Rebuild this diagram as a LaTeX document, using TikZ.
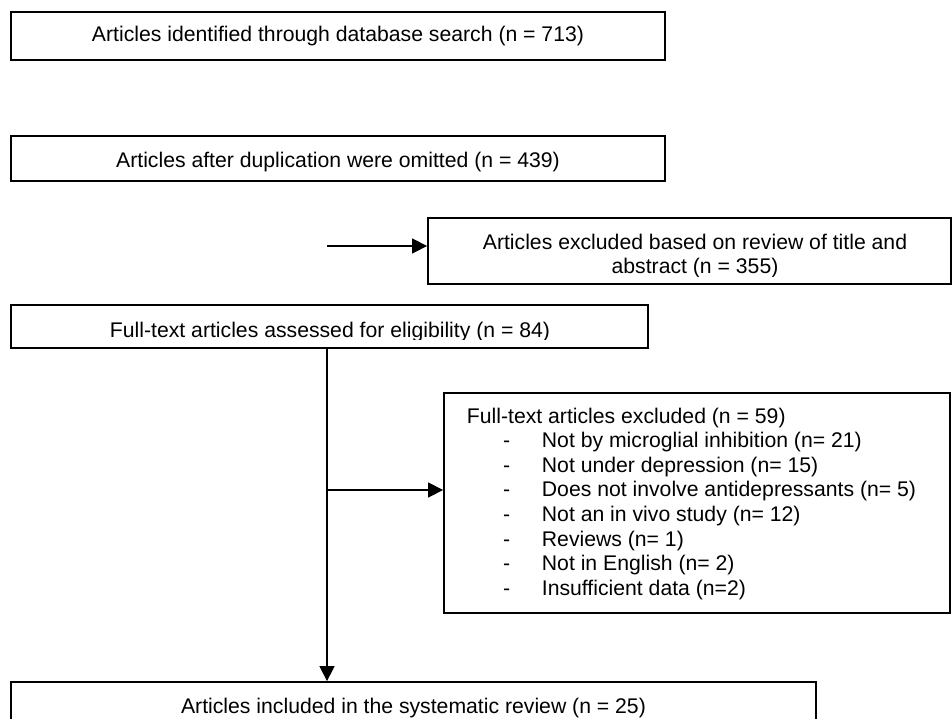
\documentclass[tikz,border=0pt]{standalone}
\usepackage{fontspec}
\setmainfont{Liberation Sans}
\usetikzlibrary{arrows.meta}
\begin{document}
\begin{tikzpicture}[x=1pt,y=-1pt,
  box/.style={draw, line width=1.8pt, inner sep=0pt, rectangle},
  lbl/.style={inner sep=0pt, anchor=base, font=\fontsize{21.2}{24.5}\selectfont},
  lbll/.style={lbl, anchor=base west},
  conn/.style={line width=1.4pt, -{Triangle[length=15pt,width=15pt]}}]
\useasboundingbox (0,0) rectangle (952,719);
\clip (0,0) rectangle (952,719);
% boxes
\node[box, minimum width=654pt, minimum height=48pt] (b1) at (338,36) {};
\node[box, minimum width=654pt, minimum height=45pt] (b2) at (338,158.5) {};
\node[box, minimum width=523pt, minimum height=66pt] (b3) at (689.5,251) {};
\node[box, minimum width=637pt, minimum height=43pt] (b4) at (329.5,326.5) {};
\node[box, minimum width=506pt, minimum height=220pt] (b5) at (697,503) {};
\node[box, minimum width=805pt, minimum height=58pt] (b6) at (413.5,711) {};
% texts
\node[lbl] (t1) at (338,42) {Articles identified through database search (n = 713)};
\node[lbl] (t2) at (338,168) {Articles after duplication were omitted (n = 439)};
\begin{scope}
  \clip (428,218) rectangle (952,276);
  \node[lbl] (t3a) at (695,249) {Articles excluded based on review of title and};
  \node[lbl] (t3b) at (695,273) {abstract (n = 355)};
\end{scope}
\begin{scope}
  \clip (11,305) rectangle (648,339);
  \node[lbl] (t4) at (330,337) {Full-text articles assessed for eligibility (n = 84)};
\end{scope}
\node[lbll] (t5) at (466.7,423) {Full-text articles excluded (n = 59)};
\foreach \i/\txt in {0/Not by microglial inhibition (n= 21),
                     1/Not under depression (n= 15),
                     2/Does not involve antidepressants (n= 5),
                     3/Not an in vivo study (n= 12),
                     4/Reviews (n= 1),
                     5/Not in English (n= 2),
                     6/Insufficient data (n=2)} {
  \node[lbll] (d\i) at (503,447.6+24.6*\i) {-};
  \node[lbll] (l\i) at (541.7,447.6+24.6*\i) {\txt};
}
\node[lbl] (t6) at (413.5,713) {Articles included in the systematic review (n = 25)};
% connectors
\coordinate (s1) at (327,246);
\coordinate (vx) at (327,0);
\coordinate (hy) at (0,490);
\draw[conn] (s1) -- (s1 -| b3.west);
\draw[line width=1.4pt] (b4.south -| vx) -- (vx |- hy);
\draw[conn] (vx |- hy) -- (hy -| b5.west);
\draw[conn] (vx |- hy) -- (b6.north -| vx);
\end{tikzpicture}
\end{document}
